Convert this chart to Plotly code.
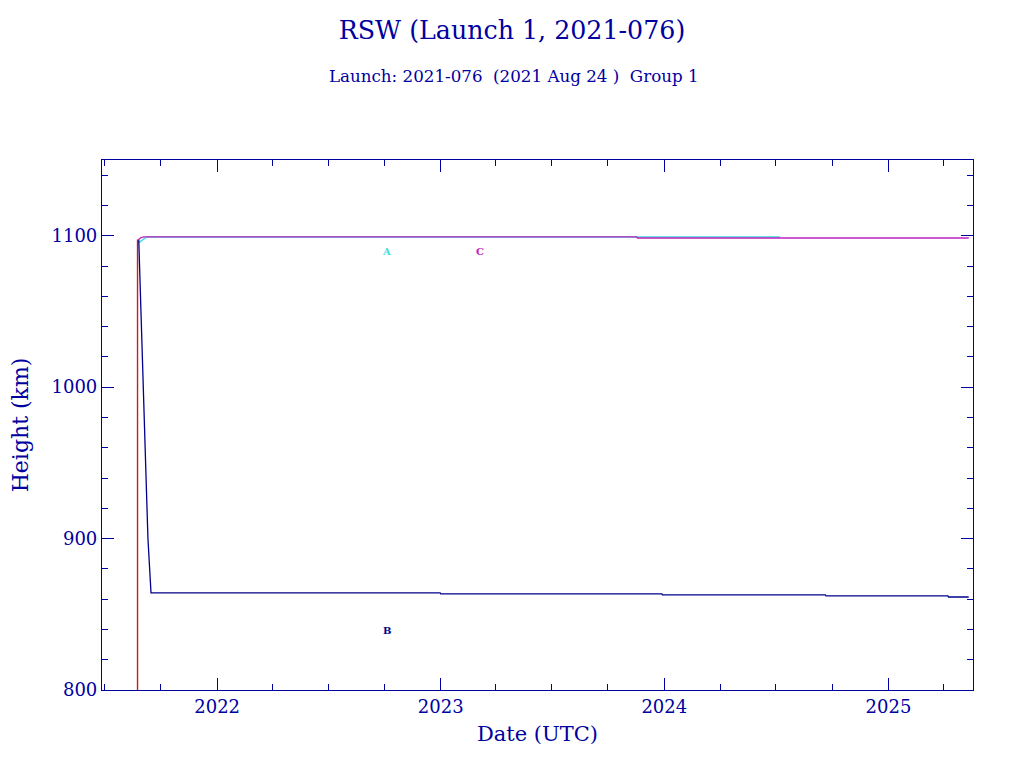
import plotly.graph_objects as go

# ---------------- data ----------------
launch_date = ["2021-08-24", "2021-08-24"]
launch_height = [790, 1097.5]

a_dates = ["2021-08-26", "2021-08-30", "2021-09-04", "2021-09-08", "2022-06-01",
           "2023-01-01", "2023-11-18", "2024-07-08"]
a_height = [1095.5, 1096.6, 1098.2, 1099.2, 1099.2, 1099.2, 1099.2, 1099.2]

b_dates = ["2021-08-26", "2021-08-29", "2021-09-02", "2021-09-06", "2021-09-10",
           "2021-09-15", "2022-12-31", "2023-01-01", "2023-12-28", "2023-12-29",
           "2024-09-20", "2024-09-21", "2025-04-08", "2025-04-09", "2025-05-12"]
b_height = [1097.5, 1058, 1003, 948, 900, 864.2, 864.2, 863.5, 863.5, 862.8,
            862.8, 862.1, 862.1, 861.4, 861.4]

c_dates = ["2021-08-25", "2021-08-29", "2021-09-03", "2023-11-17", "2023-11-18", "2025-05-12"]
c_height = [1097.2, 1098.6, 1099.2, 1099.2, 1098.5, 1098.5]

label_text = ["A", "B", "C"]
label_dates = ["2022-10-05", "2022-10-05", "2023-03-06"]
label_height = [1089.5, 839.6, 1089.8]

x_tick_vals = ["2022-01-01", "2023-01-01", "2024-01-01", "2025-01-01"]
x_tick_text = ["2022", "2023", "2024", "2025"]
y_tick_vals = [800, 900, 1000, 1100]

title_text = "RSW (Launch 1, 2021-076)"
subtitle_text = "Launch: 2021-076  (2021 Aug 24 )  Group 1"

# ---------------- style ----------------
AX = "#0000a0"
FONT = "DejaVu Serif"
col_red = "#d01a1a"
col_a = "#38e0e0"
col_b = "#00008c"
col_c = "#c020c0"
label_cols = [col_a, col_b, col_c]

W, H = 1016, 760  # page body has an 8px margin

fig = go.Figure()
fig.add_trace(go.Scatter(x=launch_date, y=launch_height, mode="lines",
                         line=dict(color=col_red, width=1.4), showlegend=False))
fig.add_trace(go.Scatter(x=a_dates, y=a_height, mode="lines",
                         line=dict(color=col_a, width=1.5), showlegend=False))
fig.add_trace(go.Scatter(x=b_dates, y=b_height, mode="lines",
                         line=dict(color=col_b, width=1.3), showlegend=False))
fig.add_trace(go.Scatter(x=c_dates, y=c_height, mode="lines",
                         line=dict(color=col_c, width=1.3), showlegend=False))

for t, xd, yh, c in zip(label_text, label_dates, label_height, label_cols):
    fig.add_annotation(x=xd, y=yh, xref="x", yref="y", text=t, showarrow=False,
                       font=dict(family=FONT, size=10, color=c, weight="bold"))

fig.add_annotation(x=0.473, y=1.1585, xref="paper", yref="paper", text=subtitle_text,
                   showarrow=False, xanchor="center", yanchor="middle",
                   font=dict(family=FONT, size=16.7, color=AX))

axis_common = dict(showgrid=False, zeroline=False, showline=True, linecolor=AX,
                   linewidth=1.2, mirror="ticks", ticks="inside", tickcolor=AX,
                   tickwidth=1.2, ticklen=12, color=AX, automargin=False)

fig.update_layout(
    width=W, height=H,
    paper_bgcolor="white", plot_bgcolor="white",
    margin=dict(l=94, r=51, t=152, b=78),
    title=dict(text=title_text, x=504 / W, xref="container", xanchor="center",
               y=1 - 22 / H, yref="container", yanchor="middle",
               font=dict(family=FONT, size=25.3, color=AX)),
    xaxis=dict(**axis_common, type="date", range=["2021-06-27", "2025-05-19"],
               tickvals=x_tick_vals, ticktext=x_tick_text,
               tickfont=dict(family=FONT, size=18, color=AX),
               minor=dict(dtick="M3", tick0="2022-01-01", ticks="inside", ticklen=6,
                          tickcolor=AX, tickwidth=1.2, showgrid=False),
               title=dict(text="Date (UTC)", standoff=10,
                          font=dict(family=FONT, size=21, color=AX))),
    yaxis=dict(**axis_common, range=[800, 1150], tickvals=y_tick_vals,
               tickfont=dict(family=FONT, size=18, color=AX),
               minor=dict(dtick=20, tick0=800, ticks="inside", ticklen=6,
                          tickcolor=AX, tickwidth=1.2, showgrid=False),
               title=dict(text="Height (km)", standoff=22,
                          font=dict(family=FONT, size=22, color=AX))),
)

fig.write_html("out.html")
